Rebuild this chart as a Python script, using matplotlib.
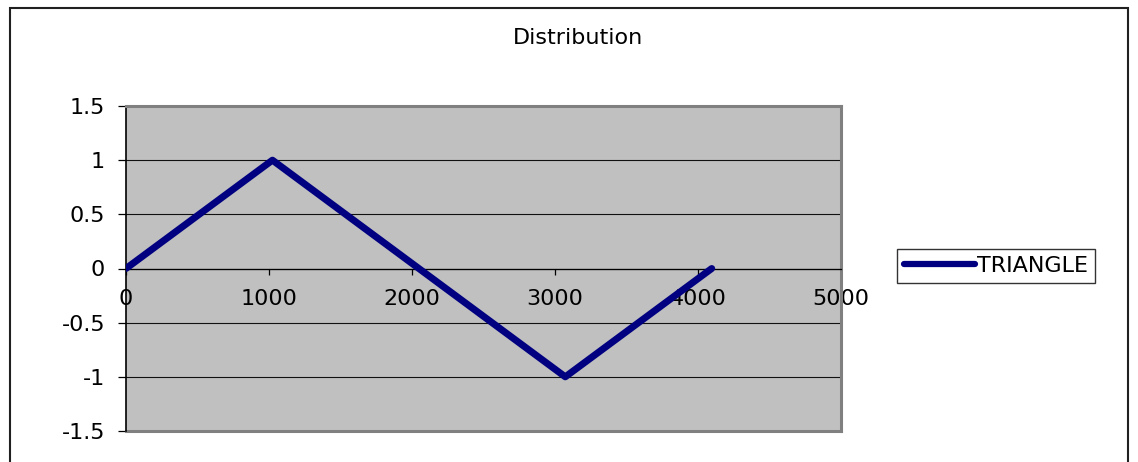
import matplotlib
matplotlib.use("Agg")
import matplotlib.pyplot as plt
from matplotlib.patches import Rectangle

plt.rcParams['font.family'] = ['DejaVu Sans']

# triangle wave samples
x = [0, 1024, 3072, 4096]
y = [0, 1, -1, 0]
xticks = [0, 1000, 2000, 3000, 4000, 5000]
yticks = [-1.5, -1, -0.5, 0, 0.5, 1, 1.5]

W, H = 1138, 462
fig = plt.figure(figsize=(W / 100, H / 100), dpi=100)

# outer chart frame
fig.patches.append(Rectangle((10 / W, -0.05), 1118 / W, 1 - 8 / H + 0.05,
                             transform=fig.transFigure, fill=False,
                             edgecolor='#202020', lw=1.5))

ax = fig.add_axes([126 / W, (H - 431) / H, (841 - 126) / W, (431 - 106) / H])
ax.set_facecolor('#c0c0c0')

line, = ax.plot(x, y, color='#000080', lw=5, solid_capstyle='round',
                solid_joinstyle='round', label='TRIANGLE', zorder=3)

ax.set_xlim(0, 5000)
ax.set_ylim(-1.5, 1.5)
ax.set_xticks(xticks)
ax.set_yticks(yticks)
ax.set_yticklabels(['-1.5', '-1', '-0.5', '0', '0.5', '1', '1.5'])
ax.yaxis.grid(True, color='#111111', lw=0.8)
ax.set_axisbelow(True)

ax.spines['bottom'].set_position(('data', 0))
ax.spines['bottom'].set_color('black')
ax.spines['bottom'].set_linewidth(0.9)
ax.spines['left'].set_color('black')
ax.spines['left'].set_linewidth(1.2)
for s in ['top', 'right']:
    ax.spines[s].set_color('#808080')
    ax.spines[s].set_linewidth(2.2)
ax.axhline(-1.5, color='#808080', lw=2.2, clip_on=False, zorder=2)

ax.tick_params(axis='x', direction='out', length=4, width=0.9, pad=11,
               labelsize=16)
ax.tick_params(axis='y', direction='out', length=6, width=0.9, pad=9,
               labelsize=16)

fig.text(578 / W, 1 - 38 / H, 'Distribution', ha='center', va='center',
         fontsize=16)

leg = fig.legend(handles=[line], loc='center left',
                 bbox_to_anchor=(897 / W, 1 - 266 / H), fontsize=16,
                 frameon=True, fancybox=False, handlelength=3.2,
                 handletextpad=0.1, borderpad=0.3, borderaxespad=0)
leg.get_frame().set_edgecolor('black')
leg.get_frame().set_linewidth(1)
leg.legend_handles[0].set_linewidth(4.5)

fig.savefig('out.png', dpi=100)
